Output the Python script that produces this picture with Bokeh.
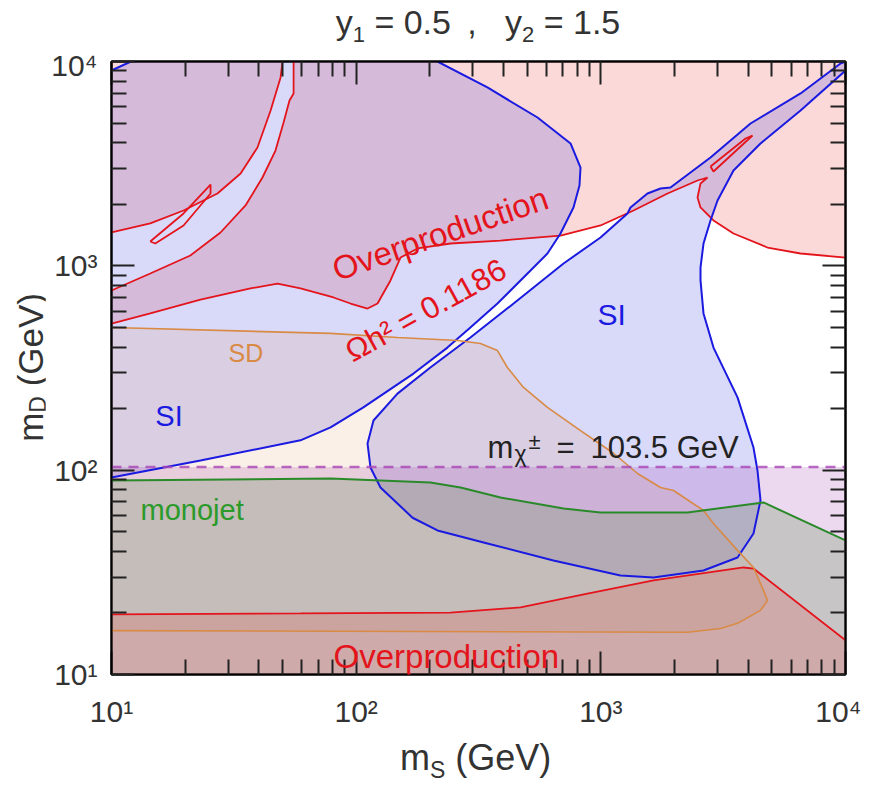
from bokeh.plotting import figure
from bokeh.models import LogAxis, FixedTicker, Label, Range1d, Div
from bokeh.layouts import column, row
from bokeh.embed import file_html
from bokeh.resources import INLINE

# ---------------- data (mS, mD) in GeV ----------------
MAJOR_TICKS = [10, 100, 1000, 10000]
MINOR_TICKS = [20, 30, 40, 50, 60, 70, 80, 90,
               200, 300, 400, 500, 600, 700, 800, 900,
               2000, 3000, 4000, 5000, 6000, 7000, 8000, 9000]
TICK_LABELS = {10: "10¹", 100: "10²", 1000: "10³", 10000: "10⁴"}

# relic density contours Omega h^2 = 0.1186
OMEGA_A = [(10, 1456), (14.4, 1612), (19.7, 1866), (27.1, 2259), (33.7, 2830),
           (39.5, 3794), (44.7, 5757), (49.1, 8352), (50.0, 10000)]
OMEGA_B = [(10, 757), (14.4, 917), (21.0, 1124), (27.9, 1456), (35.3, 1974),
           (41.4, 2706), (46.8, 3667), (50.5, 5029), (53.4, 6443), (55.5, 6974),
           (55.5, 10000)]
OMEGA_C = [(10, 522), (14.4, 585), (23.1, 684), (37.0, 775), (47.7, 819),
           (59.2, 775), (80.8, 700), (94.8, 654), (111.3, 618), (122.3, 654),
           (138.1, 848), (151.8, 1098), (178.1, 1216), (243, 1286), (389, 1330),
           (684, 1407), (997, 1576), (1360, 1866), (1873, 2259), (2484, 2616),
           (2729, 2706), (2555, 2529), (2484, 2160), (2555, 1930), (2887, 1667),
           (3485, 1440), (4800, 1229), (6549, 1149), (10000, 1098)]
ISLAND_1 = [(14.4, 1315), (19.7, 1804), (25.4, 2500), (25.4, 2259),
            (19.7, 1576), (15.1, 1286), (14.4, 1315)]
ISLAND_2 = [(2807, 3063), (2887, 2895), (4168, 4345), (3903, 4200), (2807, 3063)]
OMEGA_LOW = [(10, 19.7), (59.2, 19.9), (243, 20.1), (469.5, 21.3), (882, 24.9),
             (1642, 28.9), (3830, 33.4), (4207, 33.0), (10000, 14.7)]

# spin-independent direct detection exclusion
SI_TOPLEFT = [(10, 9036), (12.0, 10000), (215, 10000), (344, 7462), (551, 5320),
              (752, 3970), (826, 3028), (818, 2473), (773, 1930), (684, 1440),
              (605, 1149), (516, 949), (378, 654), (293, 499), (236, 398),
              (171.5, 297), (107, 203), (78.6, 162), (59.2, 140), (23.1, 111.5),
              (10, 92.1)]
SI_RIGHT = [(10000, 10000), (9541, 9777), (6549, 6974), (4090, 4973), (2807, 3390),
            (1926, 2417), (1754, 2390), (1551, 2259), (1322, 1930), (1285, 1804),
            (997, 1376), (704, 1027), (440, 654), (293, 446), (201, 318),
            (147.5, 237), (117.7, 175), (111.3, 135), (114.4, 103.1), (125.7, 82.3),
            (147.5, 68.7), (170, 58.5), (215, 50.7), (344, 43.8),
            (640, 36.1), (1203, 30.5), (1642, 29.8), (2628, 32.3), (3620, 37.4),
            (4207, 49.0), (4493, 71.1), (4368, 99.6), (4207, 129), (3620, 227),
            (2887, 398), (2628, 585), (2555, 848), (2555, 981), (2628, 1286),
            (2807, 1667), (2999, 2088), (3485, 2928), (4493, 3970), (6549, 5757),
            (10000, 9036)]

# spin-dependent exclusion
SD = [(10, 499), (78.6, 467), (147.5, 446), (260, 431), (322, 417), (378, 385),
      (415, 318), (483, 254), (605, 203), (826, 156), (1127, 121), (1412, 96.3),
      (1754, 82.3), (1982, 79.5), (2628, 63.5), (2887, 54.8), (3620, 40.5),
      (4207, 33.4), (4622, 25.8), (4800, 23.0), (4493, 20.6), (3620, 17.8),
      (3084, 16.8), (2261, 16.1), (10, 16.4)]

# monojet exclusion
MONOJET = [(10, 89.0), (78.6, 91.0), (201, 87.0), (267, 82.3), (389, 73.5),
           (704, 64.9), (997, 62.1), (2261, 62.1), (4622, 69.5), (10000, 45.3)]

M_CHARGINO = 103.5
X_LIM = (10, 10000)
Y_LIM = (10, 10000)

# ---------------- styles ----------------
FONT = "Liberation Sans"
RED = "#e4141c"
BLUE = "#1a1ae0"
ORANGE = "#d98a45"
GREEN = "#2a8a2a"
PURPLE = "#a845b5"
TXT = "#333333"


def xs(pts):
    return [a for a, _ in pts]


def ys(pts):
    return [b for _, b in pts]


p = figure(frame_width=734, frame_height=613,
           x_axis_type="log", y_axis_type="log",
           x_range=Range1d(*X_LIM), y_range=Range1d(*Y_LIM),
           output_backend="svg", toolbar_location=None,
           min_border_left=66, min_border_right=16,
           min_border_top=13, min_border_bottom=56)
p.grid.visible = False
p.background_fill_color = "white"
p.border_fill_color = "white"
p.outline_line_color = "black"
p.outline_line_width = 2

# ----- fills -----
over1 = [(X_LIM[0], Y_LIM[1])] + OMEGA_A[::-1]
over2 = OMEGA_B + [(X_LIM[1], Y_LIM[1])] + OMEGA_C[::-1]
low_red = OMEGA_LOW + [(X_LIM[1], Y_LIM[0]), (X_LIM[0], Y_LIM[0])]
mono = MONOJET + [(X_LIM[1], Y_LIM[0]), (X_LIM[0], Y_LIM[0])]
lep = [(X_LIM[0], Y_LIM[0]), (X_LIM[1], Y_LIM[0]), (X_LIM[1], M_CHARGINO), (X_LIM[0], M_CHARGINO)]

p.patches([xs(over1), xs(over2)], [ys(over1), ys(over2)],
          fill_color="#e8403a", fill_alpha=0.2, line_color=None)
p.patches([xs(SI_TOPLEFT), xs(SI_RIGHT)], [ys(SI_TOPLEFT), ys(SI_RIGHT)],
          fill_color="#4040e0", fill_alpha=0.2, line_color=None)
p.patch(xs(SD), ys(SD), fill_color="#e08040", fill_alpha=0.12, line_color=None)
p.patch(xs(lep), ys(lep), fill_color="#a040b0", fill_alpha=0.2, line_color=None)
p.patch(xs(mono), ys(mono), fill_color="#7c9c70", fill_alpha=0.32, line_color=None)
p.patch(xs(low_red), ys(low_red), fill_color="#e8403a", fill_alpha=0.2, line_color=None)

# ----- contour lines -----
for c in [OMEGA_A, OMEGA_B, OMEGA_C, ISLAND_1, ISLAND_2, OMEGA_LOW]:
    p.line(xs(c), ys(c), line_color=RED, line_width=1.8)
p.line(xs(SI_TOPLEFT[:2]), ys(SI_TOPLEFT[:2]), line_color=BLUE, line_width=2)
p.line(xs(SI_TOPLEFT[2:]), ys(SI_TOPLEFT[2:]), line_color=BLUE, line_width=2)
p.line(xs(SI_RIGHT), ys(SI_RIGHT), line_color=BLUE, line_width=2)
p.line(xs(SD), ys(SD), line_color=ORANGE, line_width=1.6)
p.line(xs(MONOJET), ys(MONOJET), line_color=GREEN, line_width=2)
p.line(list(X_LIM), [M_CHARGINO, M_CHARGINO], line_color=PURPLE, line_width=2.5,
       line_dash="10 7", line_alpha=0.8)

# ----- axes -----
def style_axis(ax, show_labels):
    ax.ticker = FixedTicker(ticks=MAJOR_TICKS, minor_ticks=MINOR_TICKS)
    ax.major_tick_in = 23
    ax.major_tick_out = 0
    ax.minor_tick_in = 15
    ax.minor_tick_out = 0
    ax.major_tick_line_width = 2
    ax.minor_tick_line_width = 2
    ax.major_tick_line_color = "#222222"
    ax.minor_tick_line_color = "#222222"
    ax.axis_line_color = "black"
    ax.axis_line_width = 2
    ax.major_label_overrides = TICK_LABELS
    ax.major_label_text_font = FONT
    if show_labels:
        ax.major_label_text_font_size = "30px"
        ax.major_label_text_color = TXT
    else:
        ax.major_label_text_font_size = "2px"
        ax.major_label_text_alpha = 0
        ax.major_label_standoff = 0


style_axis(p.xaxis[0], True)
style_axis(p.yaxis[0], True)
p.xaxis[0].major_label_standoff = 20
p.yaxis[0].major_label_standoff = 14
top_ax = LogAxis()
right_ax = LogAxis()
style_axis(top_ax, False)
style_axis(right_ax, False)
p.add_layout(top_ax, "above")
p.add_layout(right_ax, "right")


def lab(text, x, y, size, color, **kw):
    p.add_layout(Label(x=x, y=y, text=text, text_font=FONT, text_font_size=size,
                       text_color=color, **kw))


# in-plot annotations
lab("Overproduction", 80.8, 949, "33px", RED, text_baseline="alphabetic", angle=0.332)
lab("Ωh² = 0.1186", 92.2, 372, "31px", RED, text_baseline="alphabetic", angle=0.506)
lab("Overproduction", 80.8, 12.24, "33px", RED, text_baseline="alphabetic")
lab("SI", 15.1, 185, "29px", BLUE, text_baseline="alphabetic")
lab("SI", 969, 575, "30px", BLUE, text_baseline="alphabetic")
lab("SD", 30.1, 376, "25px", ORANGE, text_baseline="alphabetic")
lab("monojet", 13.14, 63.5, "29px", "#2a9a2a", text_baseline="alphabetic")
lab("m", 344, 129, "31px", "#222222", text_baseline="alphabetic")
lab("χ", 344, 129, "23px", "#222222", text_baseline="alphabetic", x_offset=27, y_offset=-6)
lab("±", 344, 129, "22px", "#222222", text_baseline="alphabetic", x_offset=41, y_offset=6)
lab("=", 344, 129, "31px", "#222222", text_baseline="alphabetic", x_offset=69)
lab("103.5 GeV", 344, 129, "31px", "#222222", text_baseline="alphabetic", x_offset=103)

# ----- title and axis titles as real HTML text (sub-scripts) -----
BASE = "font-family:'Liberation Sans',Arial,sans-serif;color:%s;white-space:nowrap;" % TXT

title_html = (
    '<div style="position:relative;width:861px;height:48px;">'
    '<div style="position:absolute;left:178px;top:3px;width:600px;text-align:center;'
    'font-size:34px;line-height:38px;' + BASE + '">'
    'y<span style="font-size:22px;position:relative;top:8px;">1</span> = 0.5&nbsp;&thinsp;,&nbsp;&nbsp;&nbsp;'
    'y<span style="font-size:22px;position:relative;top:8px;">2</span> = 1.5'
    '</div></div>')

ylab_html = (
    '<div style="position:relative;width:45px;height:669px;">'
    '<div style="position:absolute;left:14px;top:245px;writing-mode:vertical-rl;'
    'transform:rotate(180deg);font-size:35px;line-height:34px;' + BASE + '">'
    'm<span style="font-size:23px;position:relative;left:-7px;">D</span> (GeV)'
    '</div></div>')

xlab_html = (
    '<div style="position:relative;width:861px;height:50px;">'
    '<div style="position:absolute;left:400px;top:8px;font-size:36px;line-height:40px;'
    + BASE + '">'
    'm<span style="font-size:23px;position:relative;top:8px;">S</span> (GeV)'
    '</div></div>')

title_div = Div(text=title_html, width=861, height=48, margin=0)
ylab_div = Div(text=ylab_html, width=45, height=669, margin=0)
xlab_div = Div(text=xlab_html, width=861, height=50, margin=0)

layout = column(title_div, row(ylab_div, p, spacing=0), xlab_div, spacing=0)

open("out.html", "w").write(file_html(layout, INLINE))
